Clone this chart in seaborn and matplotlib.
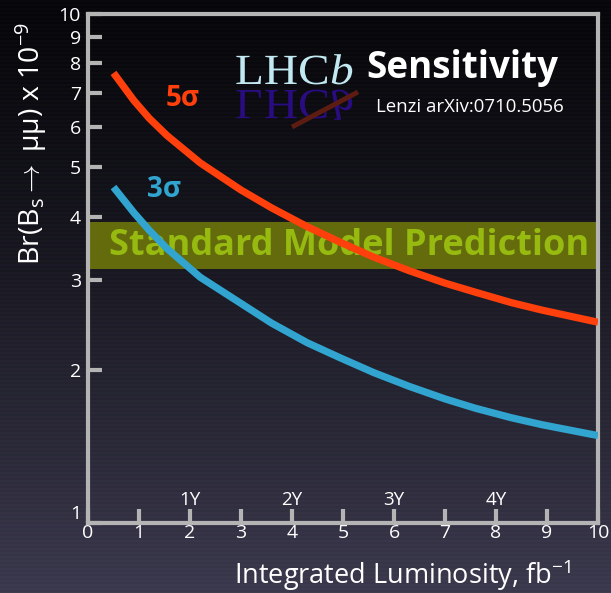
import matplotlib
matplotlib.use('Agg')
import matplotlib.pyplot as plt
import seaborn as sns
import numpy as np
import pandas as pd
from matplotlib.textpath import TextPath
from matplotlib.patches import PathPatch
from matplotlib.font_manager import FontProperties
from matplotlib.transforms import Affine2D
from matplotlib.ticker import FixedLocator, FixedFormatter, NullLocator

# data
lumi = [0.5, 0.9, 1.2, 1.55, 2.2, 3.0, 3.6, 4.3, 4.95, 5.6, 6.3, 7.0, 7.6, 8.3, 8.9, 10]
br_5sigma = [7.66, 6.76, 6.24, 5.77, 5.10, 4.51, 4.16, 3.82, 3.56, 3.33, 3.13, 2.96, 2.84, 2.71, 2.62, 2.48]
br_3sigma = [4.57, 4.07, 3.76, 3.46, 3.04, 2.70, 2.47, 2.26, 2.11, 1.975, 1.855, 1.753, 1.68, 1.61, 1.56, 1.485]
sm_band = [3.15, 3.9]
x_ticks = list(range(0, 11))
y_ticks = list(range(1, 11))
year_pos = [2, 4, 6, 8]
year_labels = ['1Y', '2Y', '3Y', '4Y']

RED = '#ff400c'
BLUE = '#31a5cf'
GREY = '#b4b4b4'

sns.set_style('dark')
plt.rcParams['font.family'] = ['Open Sans', 'DejaVu Sans']
plt.rcParams['mathtext.fontset'] = 'custom'
plt.rcParams['mathtext.rm'] = 'Open Sans'
plt.rcParams['mathtext.it'] = 'Open Sans:italic'
plt.rcParams['mathtext.bf'] = 'Open Sans:bold'

W, H = 611, 593
fig = plt.figure(figsize=(W / 100, H / 100), dpi=100)

#%% background gradient with faint scanlines
bg = fig.add_axes([0, 0, 1, 1], zorder=-10)
top_c = np.array([6, 6, 10]) / 255
bot_c = np.array([58, 56, 76]) / 255
t = np.linspace(0, 1, H)[:, None] ** 1.3
img = top_c[None, :] * (1 - t) + bot_c[None, :] * t
stripe = ((np.arange(H) // 2) % 2 == 0)[:, None] * 0.012
img = np.clip(img + stripe, 0, 1)
bg.imshow(img[:, None, :], aspect='auto', extent=[0, 1, 0, 1])
bg.set_axis_off()

#%% main axes
ax = fig.add_axes([88 / W, 70 / H, 510 / W, 509 / H])
ax.set_facecolor('none')
ax.set_yscale('log')

ax.axhspan(sm_band[0], sm_band[1], xmin=0, xmax=0.997, color='#646b0c', zorder=1, lw=0)
ax.text(0.42, np.sqrt(sm_band[0] * sm_band[1]), 'Standard Model Prediction',
        color='#97ba10', fontsize=26, fontweight='bold', va='center', ha='left', zorder=2)

df = pd.DataFrame({'lumi': lumi, 's5': br_5sigma, 's3': br_3sigma})
sns.lineplot(data=df, x='lumi', y='s5', ax=ax, color=RED, lw=5.2, zorder=4, solid_capstyle='butt')
sns.lineplot(data=df, x='lumi', y='s3', ax=ax, color=BLUE, lw=5.2, zorder=4, solid_capstyle='butt')

ax.set_xlim(0, 10)
ax.set_ylim(1, 10)
ax.xaxis.set_major_locator(FixedLocator(x_ticks))
ax.xaxis.set_major_formatter(FixedFormatter([str(v) for v in x_ticks]))
ax.yaxis.set_major_locator(FixedLocator(y_ticks))
ax.yaxis.set_major_formatter(FixedFormatter([str(v) for v in y_ticks]))
ax.yaxis.set_minor_locator(NullLocator())
ax.xaxis.set_minor_locator(NullLocator())
ax.tick_params(axis='both', direction='in', length=10, width=3, color=GREY,
               labelcolor='white', labelsize=14, bottom=True, left=True,
               top=False, right=False)
ax.tick_params(axis='x', pad=1)
ax.tick_params(axis='y', pad=5)
ax.grid(False)
for s in ax.spines.values():
    s.set_visible(True)
    s.set_color(GREY)
    s.set_linewidth(3)
ax.set_xlabel('')
ax.set_ylabel('')
ax.get_yticklabels()[0].set_va('bottom')

for p, lab in zip(year_pos, year_labels):
    ax.text(p, 1.085, lab, color='white', fontsize=13.5, ha='center', va='baseline')

#%% overlay in pixel coordinates for labels and logo
ov = fig.add_axes([0, 0, 1, 1], zorder=5)
ov.set_xlim(0, W)
ov.set_ylim(H, 0)
ov.set_axis_off()
ov.patch.set_visible(False)

ov.text(166, 106, '5σ', color=RED, fontsize=20, fontweight='bold', va='baseline')
ov.text(147, 197, '3σ', color=BLUE, fontsize=20, fontweight='bold', va='baseline')

ov.text(31, 143, r'Br(B$_{\mathrm{s}}$$\rightarrow$ μμ) x 10$^{\mathrm{-9}}$', color='white',
        fontsize=20.5, rotation=90, ha='center', va='center')
ov.text(571, 584, r'Integrated Luminosity, fb$^{\mathrm{-1}}$', color='white',
        fontsize=19.5, ha='right', va='baseline')

ov.text(366, 78, 'Sensitivity', color='white', fontsize=26.5, fontweight='bold', va='baseline')
ov.text(376, 112, 'Lenzi arXiv:0710.5056', color='white', fontsize=13.4, va='baseline')

# LHCb logo and its mirror image
fp = FontProperties(family='Liberation Serif')
fpi = FontProperties(family='Liberation Serif', style='italic')
pieces = [('LHC', fp, 235), ('b', fpi, 330)]
for txt, prop, x0 in pieces:
    path = TextPath((0, 0), txt, prop=prop, size=43)
    up = Affine2D().scale(1.1, -1).translate(x0, 84)
    ov.add_patch(PathPatch(up.transform_path(path), color='#c2e9f1', lw=0))
    down = Affine2D().scale(1.1, 1).translate(x0, 90)
    ov.add_patch(PathPatch(down.transform_path(path), color='#2a0c82', lw=0))
ov.plot([292, 358], [127, 92], color='#5c1c12', lw=3.5, solid_capstyle='butt')

fig.savefig('out.png', dpi=100)
